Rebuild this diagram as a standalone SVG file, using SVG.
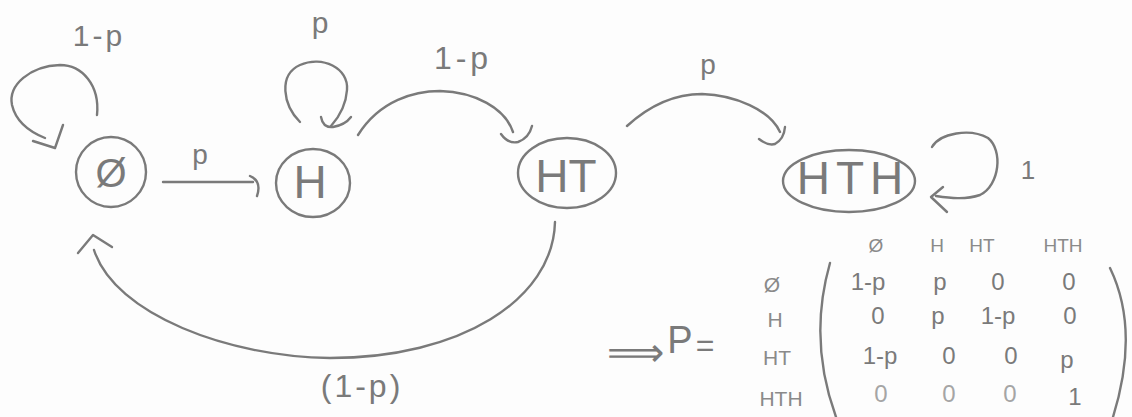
<svg xmlns="http://www.w3.org/2000/svg" width="1132" height="417" viewBox="0 0 1132 417">
<style>
.s{fill:none;stroke:#7a7a7a;stroke-width:2.4;stroke-linecap:round;stroke-linejoin:round}
.n{fill:none;stroke:#7a7a7a;stroke-width:2.4}
.t{font-family:"Liberation Sans",Arial,sans-serif;fill:#7a7a7a;text-anchor:middle}
.lbl{font-size:30px}
.nd{font-size:46px}
.m{font-size:24px}
.h{font-size:19px;fill:#8a8a8a}
.r{font-size:21px;fill:#8a8a8a}
.lt{fill:#a5a5a5}
</style>
<rect width="1132" height="417" fill="#fdfdfd"/>

<g id="connectors">
  <!-- Ø self-loop -->
  <path class="s" d="M97,115 C100,85 82,65 60,65 C30,66 8,85 12,105 C16,122 30,132 45,138"/>
  <polyline class="s" points="33,141 55,148 63,125"/>
  <!-- Ø -> H -->
  <path class="s" d="M163,182 L253,182"/>
  <path class="s" d="M250,176 Q262,181 257,196"/>
  <!-- H self-loop -->
  <path class="s" d="M300,122 C283,105 278,75 300,65 C322,55 349,68 347,90 C346,105 340,116 331,126"/>
  <path class="s" d="M321,117 Q323,128 333,127 Q345,125 351,117"/>
  <!-- H -> HT -->
  <path class="s" d="M358,135 C380,100 415,91 440,91 C475,92 505,108 513,132"/>
  <path class="s" d="M501,134 Q508,144 518,142 Q529,138 532,126"/>
  <!-- HT -> HTH -->
  <path class="s" d="M627,126 C650,105 675,94 702,94 C735,95 770,110 780,132"/>
  <path class="s" d="M759,139 Q768,146 775,144 Q784,139 785,127"/>
  <!-- HTH self-loop -->
  <path class="s" d="M932,147 C940,133 970,128 988,138 C1003,150 1000,185 980,195 C965,200 950,198 936,196"/>
  <polyline class="s" points="943,187 931,197 947,212"/>
  <!-- HT -> Ø -->
  <path class="s" d="M555,222 C553,300 460,358 330,358 C230,357 115,315 94,250"/>
  <polyline class="s" points="78,253 93,235 112,247"/>
</g>

<g id="labels">
  <text class="t lbl" x="99" y="46" letter-spacing="3">1-p</text>
  <text class="t" x="200" y="164" font-size="28">p</text>
  <text class="t lbl" x="320" y="33">p</text>
  <text class="t" x="463" y="69" font-size="32" letter-spacing="4">1-p</text>
  <text class="t" x="708" y="74" font-size="28" fill="#999">p</text>
  <text class="t" x="1028" y="179" font-size="26">1</text>
  <text class="t" x="362" y="397" font-size="32" letter-spacing="3">(1-p)</text>
</g>

<g id="node-empty">
  <circle class="n" cx="111" cy="172" r="35"/>
  <text class="t" x="111" y="187" font-size="40">Ø</text>
</g>
<g id="node-H">
  <ellipse class="n" cx="313" cy="183" rx="37" ry="34"/>
  <text class="t nd" x="310" y="198">H</text>
</g>
<g id="node-HT">
  <ellipse class="n" cx="567" cy="173" rx="49" ry="35"/>
  <text class="t nd" x="566" y="192">HT</text>
</g>
<g id="node-HTH">
  <ellipse class="n" cx="849" cy="181" rx="66" ry="31"/>
  <text class="t nd" x="853" y="194" letter-spacing="6">HTH</text>
</g>

<g id="matrix">
  <text class="t" x="635" y="366" font-size="40">⟹</text>
  <text class="t" x="680" y="353" font-size="38">P</text>
  <text class="t" x="705" y="356" font-size="32">=</text>

  <text class="t h" x="876" y="252">Ø</text>
  <text class="t h" x="937" y="252">H</text>
  <text class="t h" x="982" y="252">HT</text>
  <text class="t h" x="1063" y="252">HTH</text>

  <text class="t r" x="772" y="292">Ø</text>
  <text class="t r" x="775" y="327">H</text>
  <text class="t r" x="777" y="365">HT</text>
  <text class="t r" x="781" y="406">HTH</text>

  <path class="s" d="M830,263 Q808,340 836,417"/>
  <path class="s" d="M1110,268 Q1140,330 1113,417"/>

  <text class="t m" x="868" y="290">1-p</text>
  <text class="t m" x="940" y="290">p</text>
  <text class="t m" x="998" y="290">0</text>
  <text class="t m" x="1069" y="290">0</text>

  <text class="t m" x="878" y="324">0</text>
  <text class="t m" x="938" y="324">p</text>
  <text class="t m" x="998" y="324">1-p</text>
  <text class="t m" x="1070" y="324">0</text>

  <text class="t m" x="880" y="364">1-p</text>
  <text class="t m" x="949" y="364">0</text>
  <text class="t m" x="1011" y="364">0</text>
  <text class="t m" x="1067" y="368">p</text>

  <text class="t m lt" x="881" y="402">0</text>
  <text class="t m lt" x="949" y="402">0</text>
  <text class="t m lt" x="1010" y="402">0</text>
  <text class="t m" x="1075" y="405">1</text>
</g>
</svg>
